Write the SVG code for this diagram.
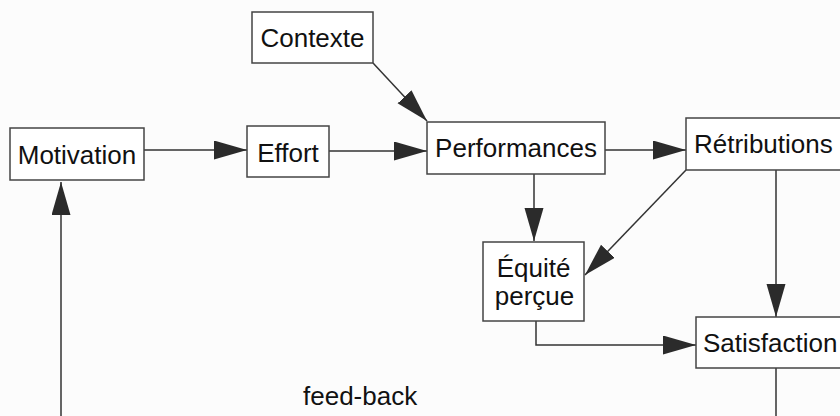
<svg xmlns="http://www.w3.org/2000/svg" width="840" height="416" viewBox="0 0 840 416">
<style>
.box{fill:#fff;stroke:#444;stroke-width:1.5}
.t{font-family:"Liberation Sans",Arial,sans-serif;font-size:26px;fill:#111}
.ln{fill:none;stroke:#333;stroke-width:1.5}
</style>
<defs>
<marker id="ah" markerUnits="userSpaceOnUse" markerWidth="34" markerHeight="20" refX="33" refY="9.5" orient="auto">
<path d="M0,0 L33,9.5 L0,19 z" fill="#2b2b2b"/>
</marker>
</defs>
<rect width="840" height="416" fill="#fcfcfc"/>
<g id="connectors">
<line class="ln" x1="144" y1="150" x2="247" y2="150" marker-end="url(#ah)"/>
<line class="ln" x1="329" y1="151" x2="427" y2="151" marker-end="url(#ah)"/>
<line class="ln" x1="373" y1="63" x2="427" y2="121" marker-end="url(#ah)"/>
<line class="ln" x1="605" y1="150" x2="686" y2="150" marker-end="url(#ah)"/>
<line class="ln" x1="534" y1="174" x2="534" y2="241" marker-end="url(#ah)"/>
<line class="ln" x1="686" y1="170" x2="585" y2="275" marker-end="url(#ah)"/>
<line class="ln" x1="776" y1="170" x2="776" y2="317" marker-end="url(#ah)"/>
<polyline class="ln" points="536,321 536,345 696,345" marker-end="url(#ah)"/>
<line class="ln" x1="776" y1="368" x2="776" y2="416"/>
<line class="ln" x1="61" y1="416" x2="61" y2="182" marker-end="url(#ah)"/>
<text class="t" x="303" y="405">feed-back</text>
</g>
<g id="contexte">
<rect class="box" x="252" y="12" width="121" height="51"/>
<text class="t" x="312.5" y="47" text-anchor="middle">Contexte</text>
</g>
<g id="motivation">
<rect class="box" x="10" y="128" width="134" height="52"/>
<text class="t" x="77" y="164" text-anchor="middle">Motivation</text>
</g>
<g id="effort">
<rect class="box" x="247" y="126" width="82" height="51"/>
<text class="t" x="288" y="162" text-anchor="middle">Effort</text>
</g>
<g id="performances">
<rect class="box" x="427" y="122" width="178" height="52"/>
<text class="t" x="516" y="157" text-anchor="middle">Performances</text>
</g>
<g id="retributions">
<rect class="box" x="686" y="118" width="170" height="52"/>
<text class="t" x="694" y="153">Rétributions</text>
</g>
<g id="equite">
<rect class="box" x="483" y="242" width="101" height="79"/>
<text class="t" x="533.5" y="277" text-anchor="middle">Équité</text>
<text class="t" x="534.5" y="305" text-anchor="middle">perçue</text>
</g>
<g id="satisfaction">
<rect class="box" x="696" y="317" width="170" height="51"/>
<text class="t" x="703" y="352">Satisfaction</text>
</g>
</svg>
